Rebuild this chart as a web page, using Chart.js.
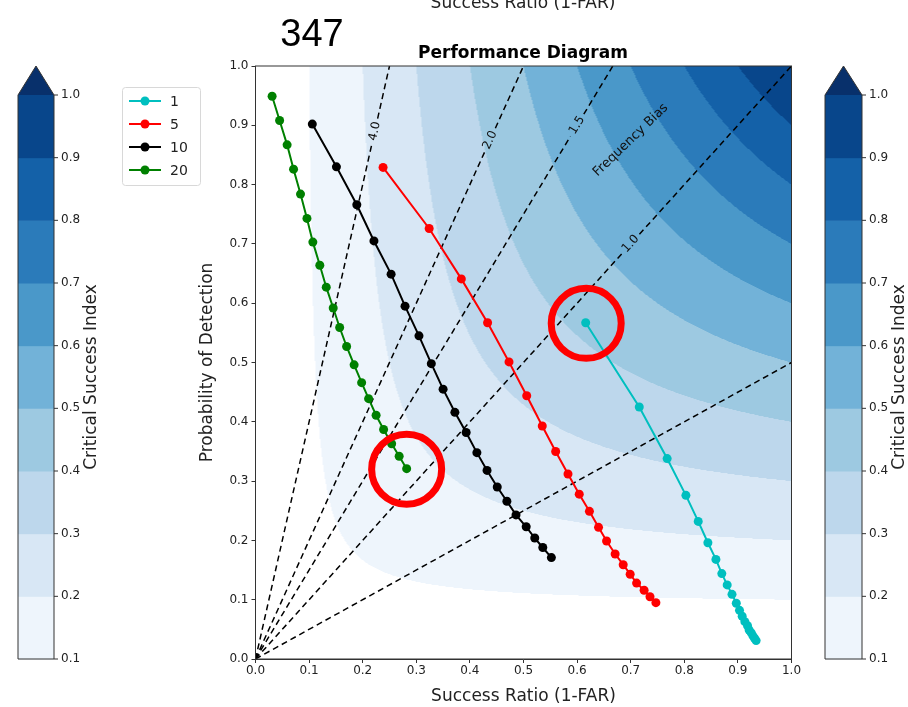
<!DOCTYPE html>
<html>
<head>
<meta charset="utf-8">
<script src="https://cdn.jsdelivr.net/npm/chart.js@4.4.0/dist/chart.umd.min.js"></script>
<style>
html, body { margin: 0; padding: 0; background: #fff; }
</style>
</head>
<body>
<canvas id="grafica" width="908" height="707"></canvas>
<script>
// series (success ratio, probability of detection)
const nombres = ['1', '5', '10', '20'];
const colores = ['#00bfbf', '#ff0000', '#000000', '#008000'];

const sr1  = [0.616, 0.716, 0.768, 0.803, 0.826, 0.844, 0.859, 0.870, 0.880, 0.889, 0.897, 0.903, 0.908, 0.913, 0.918, 0.921, 0.925, 0.928, 0.931, 0.934];
const pod1 = [0.567, 0.425, 0.338, 0.276, 0.232, 0.196, 0.168, 0.144, 0.125, 0.109, 0.094, 0.082, 0.072, 0.063, 0.056, 0.049, 0.044, 0.039, 0.035, 0.031];

const sr5  = [0.238, 0.324, 0.384, 0.433, 0.473, 0.506, 0.535, 0.560, 0.583, 0.604, 0.623, 0.640, 0.655, 0.671, 0.686, 0.699, 0.711, 0.725, 0.736, 0.747];
const pod5 = [0.829, 0.726, 0.641, 0.567, 0.501, 0.444, 0.393, 0.350, 0.312, 0.278, 0.249, 0.222, 0.199, 0.177, 0.159, 0.143, 0.128, 0.116, 0.105, 0.095];

const sr10  = [0.106, 0.151, 0.189, 0.221, 0.253, 0.279, 0.305, 0.328, 0.350, 0.372, 0.393, 0.413, 0.432, 0.451, 0.469, 0.486, 0.505, 0.521, 0.536, 0.552];
const pod10 = [0.902, 0.830, 0.766, 0.705, 0.649, 0.595, 0.545, 0.498, 0.455, 0.416, 0.382, 0.348, 0.318, 0.290, 0.266, 0.243, 0.223, 0.204, 0.188, 0.171];

const sr20  = [0.031, 0.045, 0.059, 0.071, 0.084, 0.096, 0.107, 0.120, 0.132, 0.145, 0.157, 0.170, 0.184, 0.198, 0.211, 0.225, 0.239, 0.254, 0.268, 0.282];
const pod20 = [0.949, 0.908, 0.867, 0.826, 0.784, 0.743, 0.703, 0.664, 0.627, 0.592, 0.559, 0.527, 0.496, 0.466, 0.439, 0.411, 0.387, 0.363, 0.342, 0.321];

// CSI contour levels and Blues colours
const csiNiveles = [0.1, 0.2, 0.3, 0.4, 0.5, 0.6, 0.7, 0.8, 0.9, 1.0];
const csiColores = ['#eef5fc', '#d8e7f5', '#bdd7ec', '#9dc9e1', '#72b2d8', '#4a98c9', '#2b7bba', '#1461a8', '#08468b'];
const csiExtra = '#08306b';
const csiTicks = ['0.1', '0.2', '0.3', '0.4', '0.5', '0.6', '0.7', '0.8', '0.9', '1.0'];

// frequency bias lines and where their labels sit (POD)
const sesgos = [0.5, 1.0, 1.5, 2.0, 4.0];
const sesgoEtiquetas = ['', '1.0', '1.5', '2.0', '4.0'];
const sesgoPodEtiqueta = [null, 0.70, 0.90, 0.875, 0.89];

// red highlight circles (SR, POD)
const circulos = [[0.617, 0.566], [0.282, 0.320]];

const FUENTE = "'DejaVu Sans', sans-serif";

function hexRgb(h) {
    return [parseInt(h.substr(1, 2), 16), parseInt(h.substr(3, 2), 16), parseInt(h.substr(5, 2), 16)];
}

const fondoCSI = {
    id: 'fondoCSI',
    beforeDatasetsDraw(chart) {
        const ctx = chart.ctx;
        const a = chart.chartArea;
        const x = chart.scales.x, y = chart.scales.y;
        const w = Math.round(a.right - a.left), h = Math.round(a.bottom - a.top);
        const off = document.createElement('canvas');
        off.width = w; off.height = h;
        const octx = off.getContext('2d');
        const img = octx.createImageData(w, h);
        const rgb = csiColores.map(hexRgb);
        const rgbExtra = hexRgb(csiExtra);
        for (let j = 0; j < h; j++) {
            const pod = y.getValueForPixel(a.top + j + 0.5);
            for (let i = 0; i < w; i++) {
                const sr = x.getValueForPixel(a.left + i + 0.5);
                const csi = (sr <= 0 || pod <= 0) ? 0 : 1 / (1 / sr + 1 / pod - 1);
                let c = null;
                if (csi >= csiNiveles[csiNiveles.length - 1]) c = rgbExtra;
                else {
                    for (let l = 0; l < csiNiveles.length - 1; l++) {
                        if (csi >= csiNiveles[l] && csi < csiNiveles[l + 1]) c = rgb[l];
                    }
                }
                const k = (j * w + i) * 4;
                if (c) {
                    img.data[k] = c[0]; img.data[k + 1] = c[1]; img.data[k + 2] = c[2]; img.data[k + 3] = 255;
                }
            }
        }
        octx.putImageData(img, 0, 0);
        ctx.drawImage(off, a.left, a.top);

        // frequency bias dashed lines
        ctx.save();
        ctx.beginPath();
        ctx.rect(a.left, a.top, a.right - a.left, a.bottom - a.top);
        ctx.clip();
        ctx.strokeStyle = '#000';
        ctx.lineWidth = 1.5;
        ctx.setLineDash([6, 4]);
        sesgos.forEach((b, idx) => {
            const srFin = Math.min(1, 1 / b);
            const x0 = x.getPixelForValue(0), y0 = y.getPixelForValue(0);
            const x1 = x.getPixelForValue(srFin), y1 = y.getPixelForValue(srFin * b);
            const ang = Math.atan2(y1 - y0, x1 - x0);
            const p = sesgoPodEtiqueta[idx];
            if (p === null) {
                ctx.beginPath(); ctx.moveTo(x0, y0); ctx.lineTo(x1, y1); ctx.stroke();
                return;
            }
            const lx = x.getPixelForValue(p / b), ly = y.getPixelForValue(p);
            const g = 13, dx = Math.cos(ang) * g, dy = Math.sin(ang) * g;
            ctx.beginPath(); ctx.moveTo(x0, y0); ctx.lineTo(lx - dx, ly - dy); ctx.stroke();
            ctx.beginPath(); ctx.moveTo(lx + dx, ly + dy); ctx.lineTo(x1, y1); ctx.stroke();
            ctx.save();
            ctx.translate(lx, ly);
            ctx.rotate(ang);
            ctx.fillStyle = '#111';
            ctx.font = '12px ' + FUENTE;
            ctx.textAlign = 'center';
            ctx.textBaseline = 'middle';
            ctx.fillText(sesgoEtiquetas[idx], 0, 0);
            ctx.restore();
        });
        ctx.setLineDash([]);
        // "Frequency Bias" label
        ctx.save();
        ctx.translate(x.getPixelForValue(0.70), y.getPixelForValue(0.875));
        ctx.rotate(-44 * Math.PI / 180);
        ctx.fillStyle = '#111';
        ctx.font = '13px ' + FUENTE;
        ctx.textAlign = 'center';
        ctx.textBaseline = 'middle';
        ctx.fillText('Frequency Bias', 0, 0);
        ctx.restore();
        ctx.restore();
    },
    afterDatasetsDraw(chart) {
        const ctx = chart.ctx;
        const a = chart.chartArea;
        const x = chart.scales.x, y = chart.scales.y;
        // frame
        ctx.save();
        ctx.strokeStyle = '#333';
        ctx.lineWidth = 1;
        ctx.strokeRect(a.left, a.top, a.right - a.left, a.bottom - a.top);
        // red circles
        ctx.strokeStyle = '#ff0000';
        ctx.lineWidth = 7;
        circulos.forEach(c => {
            ctx.beginPath();
            ctx.arc(x.getPixelForValue(c[0]), y.getPixelForValue(c[1]), 35, 0, Math.PI * 2);
            ctx.stroke();
        });
        ctx.restore();
    }
};

function barraColor(ctx, left, width, top, bottom, labelX) {
    const n = csiColores.length;
    const paso = (bottom - top) / n;
    ctx.save();
    for (let i = 0; i < n; i++) {
        ctx.fillStyle = csiColores[i];
        ctx.fillRect(left, bottom - (i + 1) * paso, width, paso + 0.5);
    }
    // extension triangle
    ctx.fillStyle = csiExtra;
    ctx.beginPath();
    ctx.moveTo(left, top);
    ctx.lineTo(left + width / 2, top - 29);
    ctx.lineTo(left + width, top);
    ctx.closePath();
    ctx.fill();
    // outline
    ctx.strokeStyle = '#333';
    ctx.lineWidth = 1;
    ctx.beginPath();
    ctx.moveTo(left, top);
    ctx.lineTo(left, bottom);
    ctx.lineTo(left + width, bottom);
    ctx.lineTo(left + width, top);
    ctx.lineTo(left + width / 2, top - 29);
    ctx.closePath();
    ctx.stroke();
    // ticks
    ctx.fillStyle = '#222';
    ctx.font = '12px ' + FUENTE;
    ctx.textAlign = 'left';
    ctx.textBaseline = 'middle';
    csiTicks.forEach((t, i) => {
        const ty = bottom - i * paso;
        ctx.beginPath();
        ctx.moveTo(left + width, ty);
        ctx.lineTo(left + width + 4, ty);
        ctx.stroke();
        ctx.fillText(t, left + width + 7, ty);
    });
    ctx.save();
    ctx.translate(labelX, (top + bottom) / 2);
    ctx.rotate(-Math.PI / 2);
    ctx.font = '17px ' + FUENTE;
    ctx.textAlign = 'center';
    ctx.textBaseline = 'middle';
    ctx.fillText('Critical Success Index', 0, 0);
    ctx.restore();
    ctx.restore();
}

const adornos = {
    id: 'adornos',
    afterDraw(chart) {
        const ctx = chart.ctx;
        barraColor(ctx, 18, 36, 95, 659, 92);
        barraColor(ctx, 825, 37, 95, 659, 900);

        ctx.save();
        // titles
        ctx.fillStyle = '#000';
        ctx.textAlign = 'center';
        ctx.textBaseline = 'alphabetic';
        ctx.font = 'bold 17px ' + FUENTE;
        ctx.fillText('Performance Diagram', 523, 58);
        ctx.fillStyle = '#222';
        ctx.font = '17px ' + FUENTE;
        ctx.fillText('Success Ratio (1-FAR)', 523, 8);
        ctx.fillStyle = '#000';
        ctx.font = "38px 'Liberation Sans', sans-serif";
        ctx.fillText('347', 312, 46);

        // legend
        ctx.fillStyle = 'rgba(255,255,255,0.9)';
        ctx.strokeStyle = '#d8d8d8';
        ctx.lineWidth = 1;
        ctx.beginPath();
        ctx.roundRect(122.5, 87.5, 78, 98, 3);
        ctx.fill();
        ctx.stroke();
        ctx.font = '14px ' + FUENTE;
        ctx.textAlign = 'left';
        ctx.textBaseline = 'middle';
        nombres.forEach((n, i) => {
            const ly = 101 + i * 23;
            ctx.strokeStyle = colores[i];
            ctx.lineWidth = 2;
            ctx.beginPath();
            ctx.moveTo(129, ly);
            ctx.lineTo(161, ly);
            ctx.stroke();
            ctx.fillStyle = colores[i];
            ctx.beginPath();
            ctx.arc(145, ly, 4.5, 0, Math.PI * 2);
            ctx.fill();
            ctx.fillStyle = '#222';
            ctx.fillText(n, 170, ly + 1);
        });
        ctx.restore();
    }
};

function puntos(sr, pod) {
    return sr.map((v, i) => ({ x: v, y: pod[i] }));
}

const series = [[sr1, pod1], [sr5, pod5], [sr10, pod10], [sr20, pod20]];

const ctx = document.getElementById('grafica').getContext('2d');
const grafica = new Chart(ctx, {
    type: 'line',
    data: {
        datasets: series.map((s, i) => ({
            label: nombres[i],
            data: puntos(s[0], s[1]),
            borderColor: colores[i],
            backgroundColor: colores[i],
            borderWidth: 2,
            pointRadius: 4.5,
            pointBorderWidth: 0,
            pointHoverRadius: 4.5,
            fill: false,
            tension: 0
        }))
    },
    options: {
        responsive: false,
        animation: false,
        events: [],
        layout: { padding: { left: 195.5, right: 116.5, top: 66, bottom: 0 } },
        plugins: { legend: { display: false }, tooltip: { enabled: false } },
        scales: {
            x: {
                type: 'linear', min: 0, max: 1,
                ticks: {
                    stepSize: 0.1, color: '#222', padding: 1,
                    font: { family: FUENTE, size: 12 },
                    callback: v => v.toFixed(1)
                },
                grid: { display: true, drawOnChartArea: false, drawTicks: true, tickLength: 4, color: '#333' },
                border: { display: true, color: '#333' },
                title: { display: true, text: 'Success Ratio (1-FAR)', color: '#222', font: { family: FUENTE, size: 17 }, padding: { top: 2, bottom: 0 } },
                afterFit: s => { s.height = 48; }
            },
            y: {
                type: 'linear', min: 0, max: 1,
                ticks: {
                    stepSize: 0.1, color: '#222', padding: 3,
                    font: { family: FUENTE, size: 12 },
                    callback: v => v.toFixed(1)
                },
                grid: { display: true, drawOnChartArea: false, drawTicks: true, tickLength: 4, color: '#333' },
                border: { display: true, color: '#333' },
                title: { display: true, text: 'Probability of Detection', color: '#222', font: { family: FUENTE, size: 17 }, padding: { top: 2, bottom: 2 } },
                afterFit: s => { s.width = 60; }
            }
        }
    },
    plugins: [fondoCSI, adornos]
});
</script>
</body>
</html>
